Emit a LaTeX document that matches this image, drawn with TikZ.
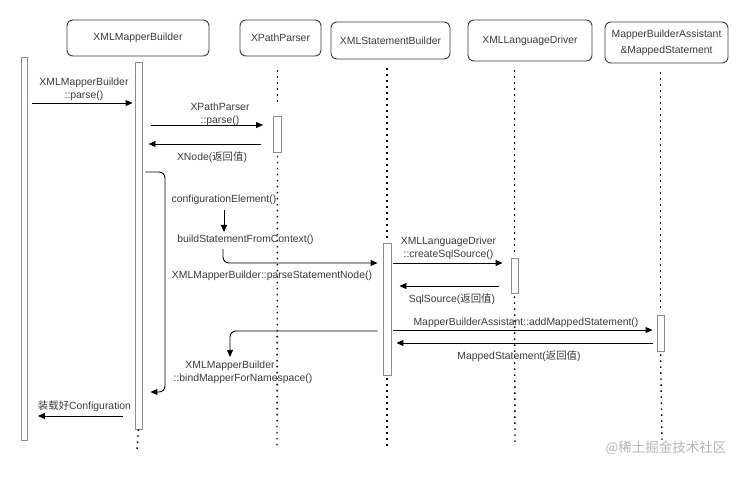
\documentclass[tikz,border=0pt]{standalone}
\usepackage{fontspec}
\setmainfont{Liberation Sans}
\newfontfamily\cjk{Noto Sans CJK SC}
\usepackage{tikz}
\usetikzlibrary{arrows.meta,positioning,calc}
\definecolor{txtgray}{HTML}{3A3A3A}
\definecolor{bargray}{HTML}{8C8C8C}
\definecolor{wmgray}{HTML}{B4B4B4}
\newcommand{\retval}{{\cjk 返回值}}

\begin{document}
\begin{tikzpicture}[x=1pt, y=-1pt,
  every node/.style={font=\fontsize{10.4}{13}\selectfont, text=txtgray, inner sep=0pt},
  head/.style={draw=txtgray, rounded corners=6pt, line width=0.9pt, align=center},
  act/.style={draw=bargray, fill=white, line width=0.9pt, minimum width=7pt},
  life/.style={line width=1.4pt, dash pattern=on 1.4pt off 4.6pt},
  msg/.style={-{Triangle[length=7pt, width=6pt]}, line width=0.9pt},
  lbl/.style={align=center},
]
\useasboundingbox (0,0) rectangle (743,487);

%% ── Participants ──────────────────────────────────────────────────────────
\node[head, minimum width=142pt, minimum height=36pt] (hB) at (138,38)   {XMLMapperBuilder};
\node[head, minimum width=81pt,  minimum height=36pt] (hX) at (280.5,38) {XPathParser};
\node[head, minimum width=119pt, minimum height=37pt] (hS) at (390.5,40.5) {XMLStatementBuilder};
\node[head, minimum width=124pt, minimum height=41pt] (hL) at (530,40.5) {XMLLanguageDriver};
\node[head, minimum width=123pt, minimum height=41pt,
      font=\fontsize{10.4}{16}\selectfont] (hA) at (666.5,42.5)
  {MapperBuilderAssistant\\\&MappedStatement};

%% ── Activation bars ───────────────────────────────────────────────────────
\node[act, minimum width=6pt, minimum height=383pt] (a0) at (24,248.5) {};
\node[act, minimum height=367pt] (a1) at (138.5,245.5) {};
\node[act, minimum width=8pt, minimum height=36pt]  (a2) at (277.5,134.5) {};
\node[act, minimum width=8pt, minimum height=132pt] (a3) at (387,309) {};
\node[act, minimum height=35pt]  (a4) at (514.5,275.5) {};
\node[act, minimum height=36pt]  (a5) at (660.5,333) {};

%% ── Lifelines ─────────────────────────────────────────────────────────────
\coordinate (endB) at (137,450);
\coordinate (endX) at (277,448);
\coordinate (endS) at (387,448);
\coordinate (endL) at (515,445);
\coordinate (endA) at (662,440);
\draw[life, shorten >=1pt] (a1.south) -- (endB);
\draw[life, shorten <=14pt, shorten >=12pt] (hX.south -| a2) -- (a2.north);
\draw[life, shorten <=3pt] (a2.south) -- (endX);
\draw[life, shorten <=9pt, shorten >=3pt] (hS.south -| a3) -- (a3.north);
\draw[life, shorten <=3pt] (a3.south) -- (endS);
\draw[life, shorten <=9pt, shorten >=3pt] (hL.south -| a4) -- (a4.north);
\draw[life, shorten <=3pt] (a4.south) -- (endL);
\draw[life, shorten <=9pt, shorten >=3pt] (hA.south -| a5) -- (a5.north);
\draw[life, shorten <=3pt] (a5.south) -- (endA);

%% ── Message levels ────────────────────────────────────────────────────────
\coordinate (m1) at (0,103);
\coordinate (m2) at (0,125);
\coordinate (m3) at (0,144);
\coordinate (m4) at (0,263);
\coordinate (m5) at (0,286);
\coordinate (m6) at (0,330);
\coordinate (m7) at (0,343);
\coordinate (m8) at (0,416);
\coordinate (selfTop) at (165,172);
\coordinate (selfBot) at (165,392);
\coordinate (bsTurn)  at (223,263);
\coordinate (bmTurn)  at (230,331);

%% ── Labels ────────────────────────────────────────────────────────────────
\node[lbl] (l1)   at (84,89.5)   {XMLMapperBuilder\\::parse()};
\node[lbl] (l2)   at (220,114)   {XPathParser\\::parse()};
\node      (l3)   at (212,157)   {XNode(\retval)};
\node      (cfg)  at (224,200)   {configurationElement()};
\node      (bsc)  at (245.5,240) {buildStatementFromContext()};
\node      (psn)  at (272,276)   {XMLMapperBuilder::parseStatementNode()};
\node[lbl] (l4)   at (448.5,248.5) {XMLLanguageDriver\\::createSqlSource()};
\node      (l5)   at (452,299)   {SqlSource(\retval)};
\node      (l6)   at (526,323)   {MapperBuilderAssistant::addMappedStatement()};
\node      (l7)   at (519,356)   {MappedStatement(\retval)};
\node[lbl] (bind) at (243,372.5) {XMLMapperBuilder\hspace*{26pt}\\::bindMapperForNamespace()};
\node      (l8)   at (84.5,406)  {{\cjk 装载好}Configuration};

%% ── Messages ──────────────────────────────────────────────────────────────
\draw[msg, shorten <=4.5pt, shorten >=2pt] (a0.east |- m1) -- (a1.west |- m1);
\draw[msg, shorten <=9pt, shorten >=10pt] (a1.east |- m2) -- (a2.west |- m2);
\draw[msg, shorten <=12pt, shorten >=6pt] (a2.west |- m3) -- (a1.east |- m3);
\draw[msg, rounded corners=6pt, shorten <=3pt, shorten >=8pt]
  (a1.east |- selfTop) -- (selfTop) -- (selfBot) -- (a1.east |- selfBot);
\draw[msg, shorten <=5pt, shorten >=3pt] (cfg.south) -- (cfg.south |- bsc.north);
\draw[msg, rounded corners=6pt, shorten <=4pt, shorten >=5pt]
  (bsc.south -| bsTurn) -- (bsTurn) -- (a3.west |- bsTurn);
\draw[msg, shorten <=2pt, shorten >=8pt] (a3.east |- m4) -- (a4.west |- m4);
\draw[msg, shorten <=12pt, shorten >=8pt] (a4.west |- m5) -- (a3.east |- m5);
\draw[msg, shorten <=2pt, shorten >=4pt] (a3.east |- m6) -- (a5.west |- m6);
\draw[msg, shorten <=4pt, shorten >=5pt] (a5.west |- m7) -- (a3.east |- m7);
\draw[msg, rounded corners=6pt, shorten <=5pt, shorten >=4pt]
  (a3.west |- bmTurn) -- (bmTurn) -- (bmTurn |- bind.north);
\draw[msg, shorten <=12pt, shorten >=10.5pt] (a1.west |- m8) -- (a0.east |- m8);

%% Watermark
\node[font=\cjk\fontsize{13.5}{15}\selectfont, text=wmgray] (wm) at (666,448) {@稀土掘金技术社区};

\end{tikzpicture}
\end{document}
